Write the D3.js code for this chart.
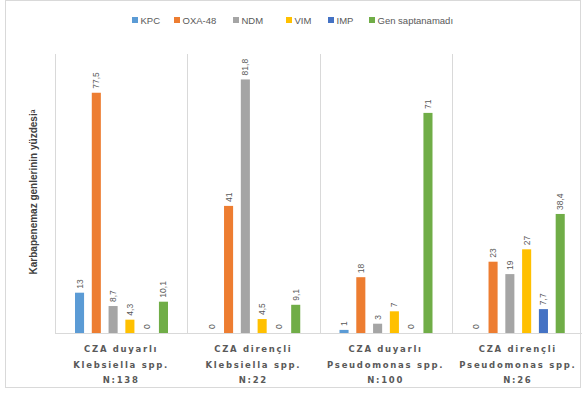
<!DOCTYPE html>
<html><head><meta charset="utf-8">
<script src="https://cdn.jsdelivr.net/npm/d3@7"></script>
<style>body{margin:0;background:#fff}svg{display:block}</style>
</head><body>
<svg id="c" width="582" height="394"></svg>
<script>
const categories = [
  ["CZA duyarlı","Klebsiella spp.","N:138"],
  ["CZA dirençli","Klebsiella spp.","N:22"],
  ["CZA duyarlı","Pseudomonas spp.","N:100"],
  ["CZA dirençli","Pseudomonas spp.","N:26"]
];
const seriesNames = ["KPC","OXA-48","NDM","VIM","IMP","Gen saptanamadı"];
const seriesColors = ["#5B9BD5","#ED7D31","#A5A5A5","#FFC000","#4472C4","#70AD47"];
const KPC = [13, 0, 1, 0];
const OXA48 = [77.5, 41, 18, 23];
const NDM = [8.7, 81.8, 3, 19];
const VIM = [4.3, 4.5, 7, 27];
const IMP = [0, 0, 0, 7.7];
const GEN = [10.1, 9.1, 71, 38.4];
const seriesValues = [KPC, OXA48, NDM, VIM, IMP, GEN];
const yTitle = "Karbapenemaz genlerinin yüzdesiᵃ";

(function(){
const svg = d3.select("#c");
const fmt = v => String(v).replace(".", ",");

// outer frame
svg.append("rect").attr("x",5.5).attr("y",0.5).attr("width",575).attr("height",387)
  .attr("fill","none").attr("stroke","#d9d9d9");

const pL = 55, pR = 584, pT = 54, pB = 333;
const x0 = d3.scaleBand().domain(d3.range(categories.length)).range([pL, pR]).padding(0);
const x1 = d3.scaleBand().domain(seriesNames).range([20, 113]).paddingInner(0.46).paddingOuter(0);
const y = d3.scaleLinear().domain([0, 90]).range([pB, pT]);

// vertical separators
const seps = d3.range(categories.length + 1).map(i => i < categories.length ? x0(i) : pR);
svg.selectAll("line.sep").data(seps).join("line")
  .attr("x1", d => Math.round(d)+0.5).attr("x2", d => Math.round(d)+0.5)
  .attr("y1", pT).attr("y2", pB).attr("stroke","#d9d9d9");
// baseline
svg.append("line").attr("x1", pL).attr("x2", pR).attr("y1", pB+0.5).attr("y2", pB+0.5)
  .attr("stroke","#d9d9d9");

const data = [];
categories.forEach((c, ci) => seriesNames.forEach((s, si) => data.push({ci, s, si, v: seriesValues[si][ci]})));

const g = svg.append("g");
g.selectAll("rect.bar").data(data).join("rect")
  .attr("x", d => x0(d.ci) + x1(d.s)).attr("width", x1.bandwidth())
  .attr("y", d => y(d.v)).attr("height", d => y(0) - y(d.v))
  .attr("fill", d => seriesColors[d.si]);

g.selectAll("text.lbl").data(data).join("text")
  .attr("transform", d => `translate(${x0(d.ci) + x1(d.s) + x1.bandwidth()/2 + 3},${y(d.v) - 4}) rotate(-90)`)
  .attr("text-anchor","start")
  .attr("font-family","'Liberation Sans', Arial, sans-serif").attr("font-size", 8.5)
  .attr("fill","#595959").text(d => fmt(d.v));

// x labels
categories.forEach((lines, ci) => {
  const t = svg.append("text").attr("text-anchor","middle")
    .attr("font-family","'DejaVu Sans', sans-serif").attr("font-weight","bold")
    .attr("font-size", 8.5).attr("letter-spacing", "1.7px").attr("fill","#595959");
  lines.forEach((ln, li) => {
    t.append("tspan").attr("x", x0(ci) + x0.bandwidth()/2).attr("y", 352 + li*15.5).text(ln);
  });
});

// y title
svg.append("text").attr("transform","translate(37,192) rotate(-90)")
  .attr("text-anchor","middle").attr("font-family","'Liberation Sans', Arial, sans-serif")
  .attr("font-weight","bold").attr("font-size", 10).attr("fill","#404040").text(yTitle);

// legend
const leg = svg.append("g");
const legX = [132, 174, 233, 286, 328, 369];
seriesNames.forEach((s, i) => {
  leg.append("rect").attr("x", legX[i]).attr("y", 17).attr("width", 6).attr("height", 6).attr("fill", seriesColors[i]);
  leg.append("text").attr("x", legX[i] + 8.5).attr("y", 23.5)
    .attr("font-family","'Liberation Sans', Arial, sans-serif").attr("font-size", 9.5)
    .attr("fill","#595959").text(s);
});
})();
</script>
</body></html>
